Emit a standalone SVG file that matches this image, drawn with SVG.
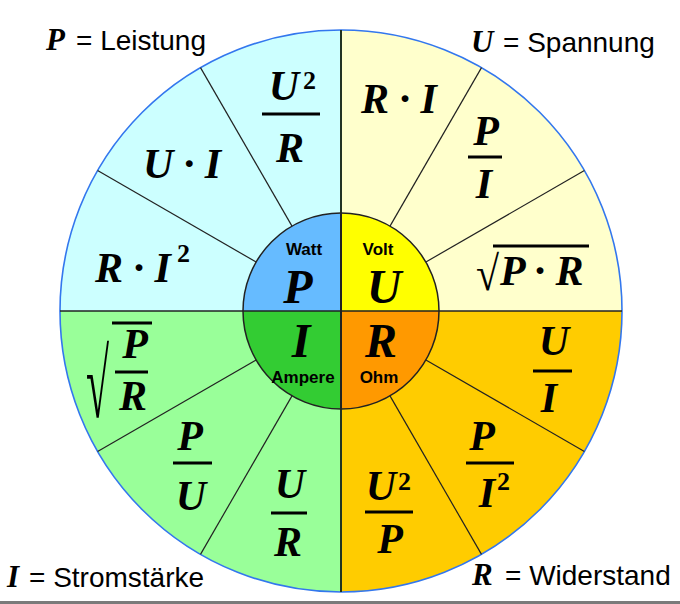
<svg xmlns="http://www.w3.org/2000/svg" width="680" height="604" viewBox="0 0 680 604">
<style>
.f{font-family:"Liberation Serif","Times New Roman",serif;font-weight:bold;font-style:italic;font-size:42px;fill:#000}
.big{font-family:"Liberation Serif","Times New Roman",serif;font-weight:bold;font-style:italic;font-size:48px;fill:#000;text-anchor:middle}
.sup{font-family:"Liberation Serif","Times New Roman",serif;font-weight:bold;font-size:26px;fill:#000}
.m{text-anchor:middle}
.unit{font-family:"Liberation Sans",Arial,sans-serif;font-weight:bold;font-size:17px;fill:#000;text-anchor:middle}
.lbl{font-family:"Liberation Sans",Arial,sans-serif;font-size:28px;fill:#000}
.lv{font-family:"Liberation Serif","Times New Roman",serif;font-weight:bold;font-style:italic;font-size:31px;fill:#000}
.bar{stroke:#000;stroke-width:3}
.spoke{stroke:#222;stroke-width:1.2}
.rad{font-family:"Liberation Serif","DejaVu Serif",serif;font-size:42px;fill:#000}
</style>
<rect width="680" height="604" fill="#fff"/>
<rect x="0" y="601" width="680" height="3" fill="#7a7a7a"/>
<g id="sectors">
<path d="M341,311 L60,311 A281,281 0 0 1 341,30 Z" fill="#ccffff"/>
<path d="M341,311 L341,30 A281,281 0 0 1 622,311 Z" fill="#ffffcc"/>
<path d="M341,311 L622,311 A281,281 0 0 1 341,592 Z" fill="#ffcc00"/>
<path d="M341,311 L341,592 A281,281 0 0 1 60,311 Z" fill="#99ff99"/>
<circle cx="341" cy="311" r="281" fill="none" stroke="#3377ee" stroke-width="1.6"/>
</g>
<g id="connectors">
<line class="spoke" x1="292" y1="226.1" x2="200.5" y2="67.6"/>
<line class="spoke" x1="256.1" y1="262" x2="97.6" y2="170.5"/>
<line class="spoke" x1="390" y1="226.1" x2="481.5" y2="67.6"/>
<line class="spoke" x1="425.9" y1="262" x2="584.4" y2="170.5"/>
<line class="spoke" x1="390" y1="395.9" x2="481.5" y2="554.4"/>
<line class="spoke" x1="425.9" y1="360" x2="584.4" y2="451.5"/>
<line class="spoke" x1="292" y1="395.9" x2="200.5" y2="554.4"/>
<line class="spoke" x1="256.1" y1="360" x2="97.6" y2="451.5"/>
<line x1="60" y1="311" x2="622" y2="311" stroke="#222" stroke-width="1.5"/>
<line x1="341" y1="30" x2="341" y2="592" stroke="#223322" stroke-width="2"/>
</g>
<g id="center">
<path d="M341,311 L243,311 A98,98 0 0 1 341,213 Z" fill="#66bbff"/>
<path d="M341,311 L341,213 A98,98 0 0 1 439,311 Z" fill="#ffff00"/>
<path d="M341,311 L439,311 A98,98 0 0 1 341,409 Z" fill="#ff9900"/>
<path d="M341,311 L341,409 A98,98 0 0 1 243,311 Z" fill="#33cc33"/>
<circle cx="341" cy="311" r="98" fill="none" stroke="#222" stroke-width="1.5"/>
<line x1="243" y1="311" x2="439" y2="311" stroke="#222" stroke-width="1.5"/>
<line x1="341" y1="213" x2="341" y2="409" stroke="#222" stroke-width="2"/>
</g>
<g id="node-P">
<text class="unit" x="304" y="255">Watt</text>
<text class="big" x="298" y="303">P</text>
</g>
<g id="node-U">
<text class="unit" x="378" y="255">Volt</text>
<text class="big" x="384" y="303">U</text>
</g>
<g id="node-I">
<text class="big" x="301" y="357">I</text>
<text class="unit" x="303" y="383">Ampere</text>
</g>
<g id="node-R">
<text class="big" x="381" y="357">R</text>
<text class="unit" x="379" y="383">Ohm</text>
</g>
<g id="formula-U2R">
<text class="f m" x="284" y="100">U</text>
<text class="sup" x="303" y="89">2</text>
<line class="bar" x1="262" y1="114" x2="320" y2="114"/>
<text class="f m" x="290" y="162">R</text>
</g>
<g id="formula-UI">
<text class="f m" x="182" y="178">U · I</text>
</g>
<g id="formula-RI2">
<text class="f" x="95" y="282">R · I</text>
<text class="sup" x="177" y="262">2</text>
</g>
<g id="formula-RI">
<text class="f" x="361" y="113">R · I</text>
</g>
<g id="formula-PI">
<text class="f m" x="486" y="145">P</text>
<line class="bar" x1="468" y1="157" x2="502" y2="157"/>
<text class="f m" x="484" y="198">I</text>
</g>
<g id="formula-sqrtPR">
<text class="rad" transform="translate(476,290) scale(1,1.15)" x="0" y="0">√</text>
<line class="bar" x1="493" y1="246" x2="589" y2="246"/>
<text class="f" x="500" y="285">P · R</text>
</g>
<g id="formula-UI-R">
<text class="f m" x="554" y="355">U</text>
<line class="bar" x1="533" y1="371" x2="572" y2="371"/>
<text class="f m" x="549" y="412">I</text>
</g>
<g id="formula-PI2">
<text class="f m" x="482" y="450">P</text>
<line class="bar" x1="466" y1="463" x2="514" y2="463"/>
<text class="f m" x="487" y="507">I</text>
<text class="sup" x="497" y="490">2</text>
</g>
<g id="formula-U2P">
<text class="f m" x="381" y="500">U</text>
<text class="sup" x="398" y="490">2</text>
<line class="bar" x1="365" y1="512" x2="413" y2="512"/>
<text class="f m" x="390" y="553">P</text>
</g>
<g id="formula-sqrtPdivR">
<text class="rad" transform="translate(86,417) scale(1,2.3)" x="0" y="0">√</text>
<line class="bar" x1="112" y1="323" x2="152" y2="323"/>
<text class="f m" x="135" y="358">P</text>
<line class="bar" x1="115" y1="372" x2="148" y2="372"/>
<text class="f m" x="133" y="410">R</text>
</g>
<g id="formula-PU">
<text class="f m" x="190" y="450">P</text>
<line class="bar" x1="173" y1="463" x2="212" y2="463"/>
<text class="f m" x="191" y="510">U</text>
</g>
<g id="formula-UR">
<text class="f m" x="290" y="498">U</text>
<line class="bar" x1="271" y1="513" x2="307" y2="513"/>
<text class="f m" x="288" y="556">R</text>
</g>
<g id="legend-P">
<text class="lv" x="46" y="50">P</text>
<text class="lbl" x="76" y="50">= Leistung</text>
</g>
<g id="legend-U">
<text class="lv" x="471" y="52">U</text>
<text class="lbl" x="503" y="52">= Spannung</text>
</g>
<g id="legend-I">
<text class="lv" x="7" y="587">I</text>
<text class="lbl" x="29" y="587">= Stromstärke</text>
</g>
<g id="legend-R">
<text class="lv" x="472" y="585">R</text>
<text class="lbl" x="505" y="585">= Widerstand</text>
</g>
</svg>
